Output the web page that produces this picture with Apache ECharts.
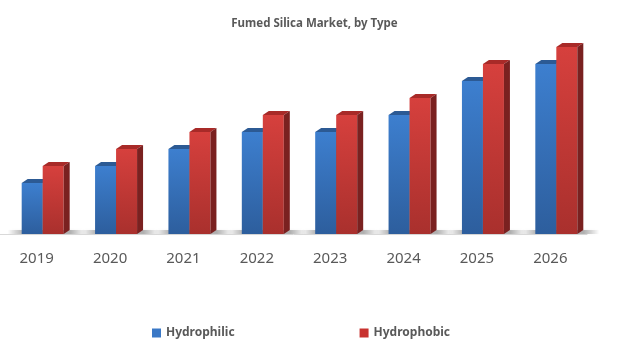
<!DOCTYPE html>
<html>
<head>
<meta charset="utf-8">
<script src="https://cdn.jsdelivr.net/npm/echarts@6/dist/echarts.min.js"></script>
<style>
  html, body { margin: 0; padding: 0; background: #fff; }
  #chart { width: 629px; height: 351px; }
</style>
</head>
<body>
<div id="chart"></div>
<script>
const years = ["2019", "2020", "2021", "2022", "2023", "2024", "2025", "2026"];
const hydrophilic = [3, 4, 5, 6, 6, 7, 9, 10];
const hydrophobic = [4, 5, 6, 7, 7, 8, 10, 11];

const BAR_W = 21;
const DEPTH_X = 6;
const DEPTH_Y = 4;

// one 3D-looking bar: front, top and side face
function barRenderer(offset, pal, withShadow) {
  return function (params, api) {
    const idx = api.value(0);
    const p0 = api.coord([idx, 0]);
    const p1 = api.coord([idx, api.value(1)]);
    const x0 = p0[0] + offset;
    const x1 = x0 + BAR_W;
    const base = p0[1];
    const top = p1[1];
    const children = [];
    if (withShadow) {
      // soft floor shadow under the pair of bars
      children.push({
        type: "rect",
        z2: 0,
        shape: { x: x0 - 14, y: base - 4, width: BAR_W * 2 + DEPTH_X + 30, height: 4 },
        style: {
          fill: new echarts.graphic.LinearGradient(0, 0, 1, 0, [
            { offset: 0, color: "rgba(0,0,0,0)" },
            { offset: 0.2, color: "rgba(0,0,0,0.28)" },
            { offset: 0.8, color: "rgba(0,0,0,0.28)" },
            { offset: 1, color: "rgba(0,0,0,0)" }
          ]),
          shadowBlur: 3,
          shadowColor: "rgba(0,0,0,0.2)"
        }
      });
    }
    children.push({
      type: "rect",
      z2: 2,
      shape: { x: x0, y: top, width: BAR_W, height: base - top },
      style: {
        fill: new echarts.graphic.LinearGradient(0, 0, 0, 1, [
          { offset: 0, color: pal.front[0] },
          { offset: 1, color: pal.front[1] }
        ])
      }
    });
    children.push({
      type: "polygon",
      z2: 2,
      shape: { points: [[x0, top], [x0 + DEPTH_X, top - DEPTH_Y], [x1 + DEPTH_X, top - DEPTH_Y], [x1, top]] },
      style: { fill: pal.top }
    });
    children.push({
      type: "polygon",
      z2: 2,
      shape: { points: [[x1, top], [x1 + DEPTH_X, top - DEPTH_Y], [x1 + DEPTH_X, base - DEPTH_Y], [x1, base]] },
      style: { fill: pal.side }
    });
    return { type: "group", children: children };
  };
}

const chart = echarts.init(document.getElementById("chart"));

chart.setOption({
  animation: false,
  title: {
    text: "Fumed Silica Market, by Type",
    left: "center",
    top: 13,
    textStyle: { fontFamily: "Noto Sans", fontSize: 11.5, fontWeight: "bold", color: "#595959" }
  },
  legend: {
    left: 147,
    top: 322,
    itemGap: 125,
    itemWidth: 9,
    itemHeight: 9,
    icon: "rect",
    textStyle: { fontFamily: "Noto Sans", fontSize: 12, fontWeight: "bold", color: "#595959" },
    data: ["Hydrophilic", "Hydrophobic"]
  },
  grid: { left: 0, right: 42, top: 30, bottom: 117 },
  xAxis: {
    type: "category",
    data: years,
    offset: 4,
    axisLine: { lineStyle: { color: "#d9d9d9" } },
    axisTick: { show: false },
    axisLabel: { margin: 13, fontFamily: "Noto Sans", fontSize: 15, color: "#595959" }
  },
  yAxis: {
    type: "value",
    min: 0,
    max: 12,
    show: false
  },
  series: [
    {
      name: "Hydrophilic",
      type: "custom",
      itemStyle: { color: "#3a78c6" },
      encode: { x: 0, y: 1 },
      data: hydrophilic.map((v, i) => [i, v]),
      renderItem: barRenderer(-15, {
        front: ["#3d7fcf", "#2d5e9d"],
        top: "#2c5a94",
        side: "#23497c"
      }, true)
    },
    {
      name: "Hydrophobic",
      type: "custom",
      itemStyle: { color: "#c8322f" },
      encode: { x: 0, y: 1 },
      data: hydrophobic.map((v, i) => [i, v]),
      renderItem: barRenderer(6, {
        front: ["#d6403d", "#a9302d"],
        top: "#a82a28",
        side: "#7a2120"
      }, false)
    }
  ]
});
</script>
</body>
</html>
